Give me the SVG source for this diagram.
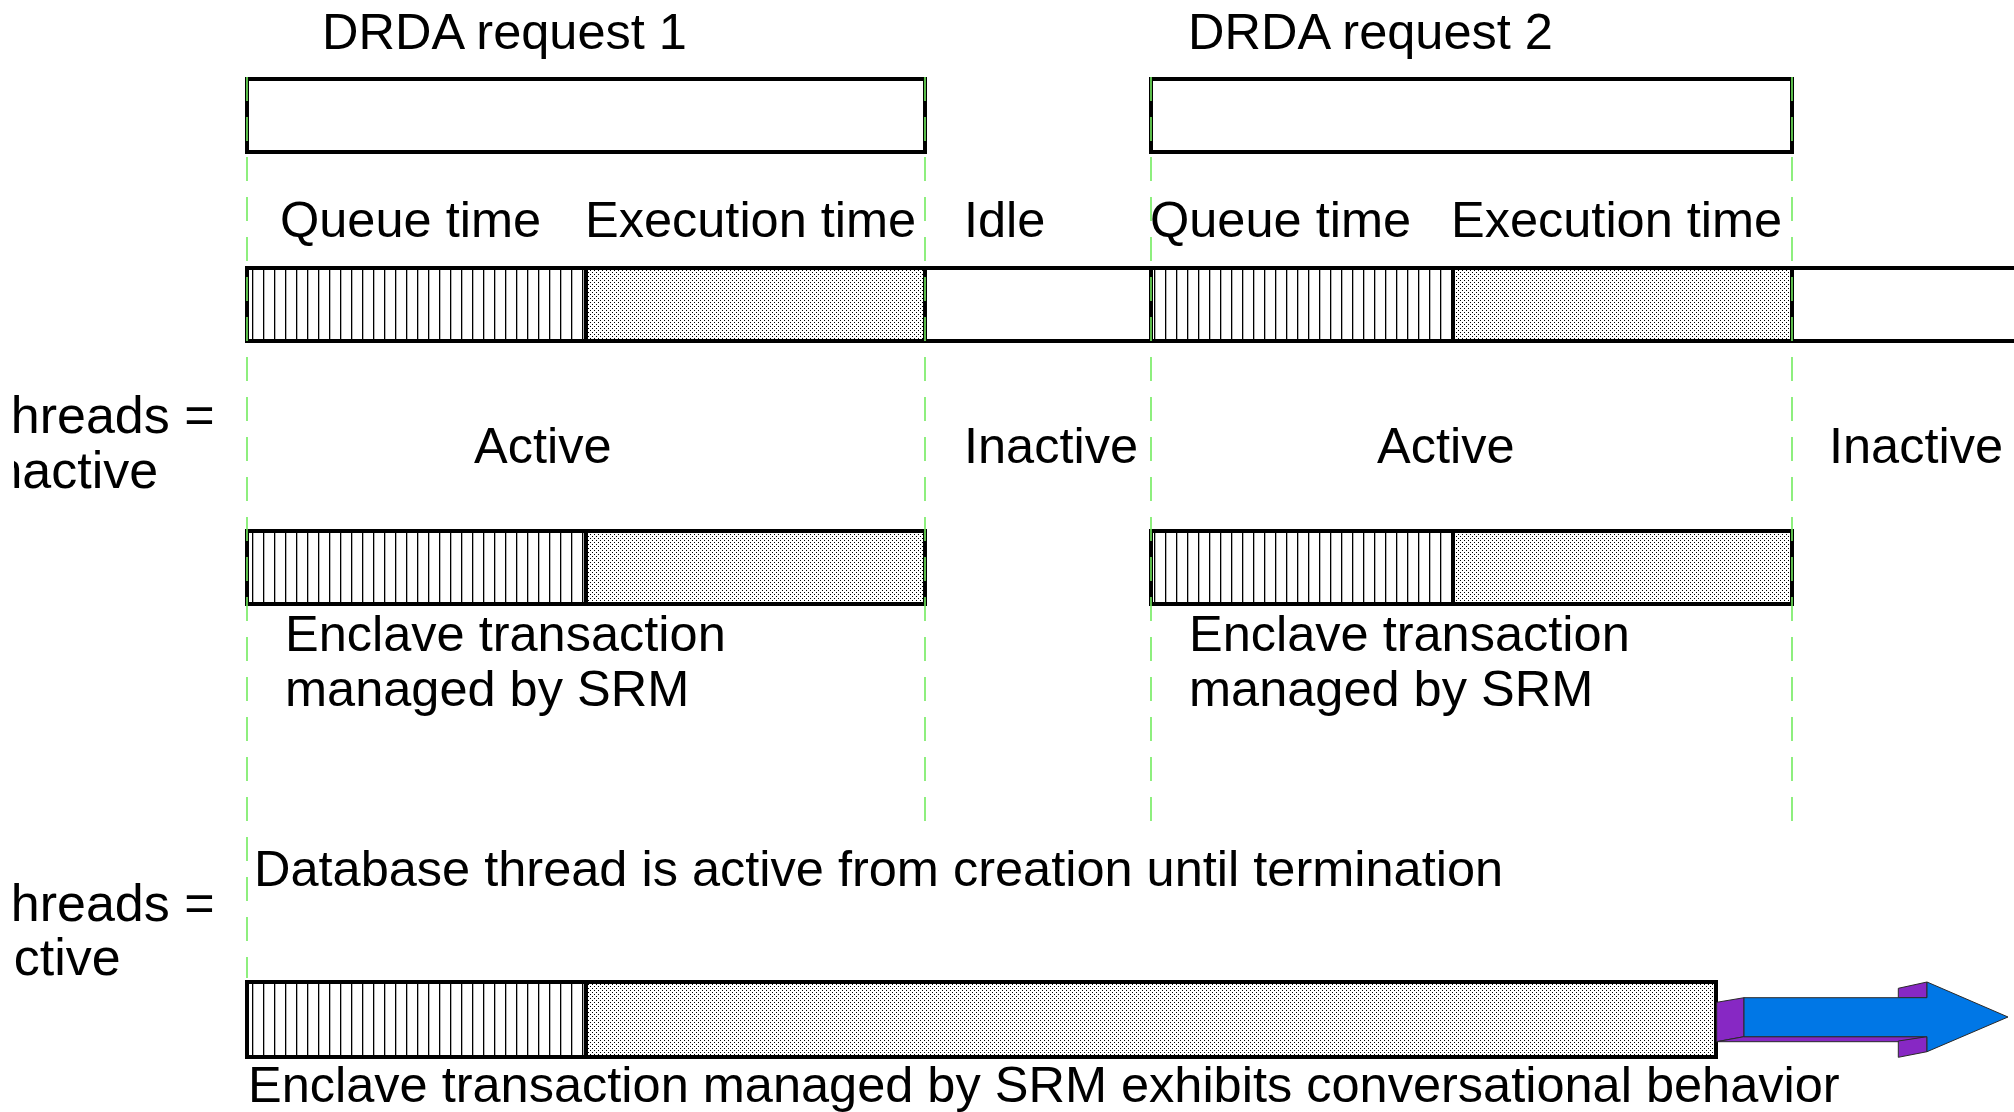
<svg xmlns="http://www.w3.org/2000/svg" width="2014" height="1112" viewBox="0 0 2014 1112">
  <style>
    text { font-family: "Liberation Sans", Arial, sans-serif; font-size: 50.5px; fill: #000; }
    .side-label { font-size: 52px; }
    .frame { fill: none; stroke: #000; stroke-width: 4; }
    .blank { fill: #fff; stroke: #000; stroke-width: 4; }
    .queue { fill: url(#vlines); }
    .exec { fill: url(#dots); }
    .split { stroke: #000; stroke-width: 4; }
    .guide { stroke: #72ec5e; stroke-width: 1.6; stroke-dasharray: 24 16; fill: none; }
    .front { fill: #0077e6; stroke: #2a2a2a; stroke-width: 1; stroke-linejoin: miter; }
    .side { fill: #8728c4; stroke: #2a2a2a; stroke-width: 1; }
  </style>
  <defs>
    <!-- vertical hatch used for queue time -->
    <pattern id="vlines" patternUnits="userSpaceOnUse" x="247" y="0" width="11" height="20">
      <rect width="11" height="20" fill="#fff"/>
      <rect x="5" y="0" width="1.3" height="20" fill="#000"/>
    </pattern>
    <!-- fine dot screen used for execution time -->
    <pattern id="dots" patternUnits="userSpaceOnUse" x="0" y="0" width="4" height="4">
      <rect width="4" height="4" fill="#fff"/>
      <rect x="0" y="0" width="1" height="1" fill="#000"/>
      <rect x="2" y="2" width="1" height="1" fill="#000"/>
    </pattern>
    <!-- the row captions are trimmed at the left margin -->
    <clipPath id="left-margin">
      <rect x="14" y="0" width="2000" height="1112"/>
    </clipPath>
  </defs>

  <rect width="2014" height="1112" fill="#fff"/>

  <!-- request headers -->
  <g id="request1">
    <text x="322" y="49">DRDA request 1</text>
    <rect class="frame" x="247" y="79" width="678" height="73"/>
  </g>
  <g id="request2">
    <text x="1188" y="49">DRDA request 2</text>
    <rect class="frame" x="1151" y="79" width="641" height="73"/>
  </g>

  <!-- phase labels -->
  <g id="phase-labels">
    <text x="280" y="237">Queue time</text>
    <text x="585" y="237">Execution time</text>
    <text x="964" y="237">Idle</text>
    <text x="1150" y="237">Queue time</text>
    <text x="1451" y="237">Execution time</text>
  </g>

  <!-- timeline of thread usage -->
  <g id="timeline">
    <rect class="blank" x="247" y="268" width="1790" height="73"/>
    <rect class="queue" x="247" y="268" width="339" height="73"/>
    <rect class="exec" x="586" y="268" width="339" height="73"/>
    <rect class="queue" x="1151" y="268" width="302" height="73"/>
    <rect class="exec" x="1453" y="268" width="339" height="73"/>
    <rect class="frame" x="247" y="268" width="1790" height="73"/>
    <line class="split" x1="586" y1="266" x2="586" y2="343"/>
    <line class="split" x1="925" y1="266" x2="925" y2="343"/>
    <line class="split" x1="1151" y1="266" x2="1151" y2="343"/>
    <line class="split" x1="1453" y1="266" x2="1453" y2="343"/>
    <line class="split" x1="1792" y1="266" x2="1792" y2="343"/>
  </g>

  <!-- inactive threads case -->
  <g id="inactive-case-label" clip-path="url(#left-margin)">
    <text class="side-label" x="-21" y="433">Threads =</text>
    <text class="side-label" x="-21" y="488">Inactive</text>
  </g>
  <g id="state-labels">
    <text x="474" y="463">Active</text>
    <text x="964" y="463">Inactive</text>
    <text x="1377" y="463">Active</text>
    <text x="1829" y="463">Inactive</text>
  </g>

  <g id="enclave1">
    <rect class="queue" x="247" y="531" width="339" height="73"/>
    <rect class="exec" x="586" y="531" width="339" height="73"/>
    <rect class="frame" x="247" y="531" width="678" height="73"/>
    <line class="split" x1="586" y1="529" x2="586" y2="606"/>
    <text x="285" y="651">Enclave transaction</text>
    <text x="285" y="706">managed by SRM</text>
  </g>
  <g id="enclave2">
    <rect class="queue" x="1151" y="531" width="302" height="73"/>
    <rect class="exec" x="1453" y="531" width="339" height="73"/>
    <rect class="frame" x="1151" y="531" width="641" height="73"/>
    <line class="split" x1="1453" y1="529" x2="1453" y2="606"/>
    <text x="1189" y="651">Enclave transaction</text>
    <text x="1189" y="706">managed by SRM</text>
  </g>

  <!-- active threads case -->
  <g id="active-case-label" clip-path="url(#left-margin)">
    <text class="side-label" x="-21" y="921">Threads =</text>
    <text class="side-label" x="-21" y="975">Active</text>
  </g>
  <g id="database-note">
    <text x="254" y="886">Database thread is active from creation until termination</text>
  </g>
  <g id="enclave-conversational">
    <rect class="queue" x="247" y="982" width="339" height="75"/>
    <rect class="exec" x="586" y="982" width="1130" height="75"/>
    <rect class="frame" x="247" y="982" width="1469" height="75"/>
    <line class="split" x1="586" y1="980" x2="586" y2="1059"/>
    <text x="248" y="1102">Enclave transaction managed by SRM exhibits conversational behavior</text>
  </g>

  <!-- connectors: time boundaries and continuation arrow -->
  <g id="connectors">
    <line class="guide" x1="247" y1="77" x2="247" y2="978"/>
    <line class="guide" x1="925" y1="77" x2="925" y2="822"/>
    <line class="guide" x1="1151" y1="77" x2="1151" y2="822"/>
    <line class="guide" x1="1792" y1="77" x2="1792" y2="822"/>
    <g id="continuation-arrow">
      <polygon class="side" points="1716.7,1002.3 1744,997.7 1744,1036.7 1716.7,1041.7"/>
      <polygon class="side" points="1744,1036.7 1927,1036.7 1898.3,1041.7 1716.7,1041.7"/>
      <polygon class="side" points="1898.3,988.3 1927,982 1927,997.7 1898.3,997.7"/>
      <polygon class="side" points="1898.3,1041 1927,1036.7 1927,1051.7 1898.3,1057.3"/>
      <polygon class="front" points="1744,997.7 1927,997.7 1927,982 2008,1017 1927,1051.7 1927,1036.7 1744,1036.7"/>
    </g>
  </g>
</svg>
